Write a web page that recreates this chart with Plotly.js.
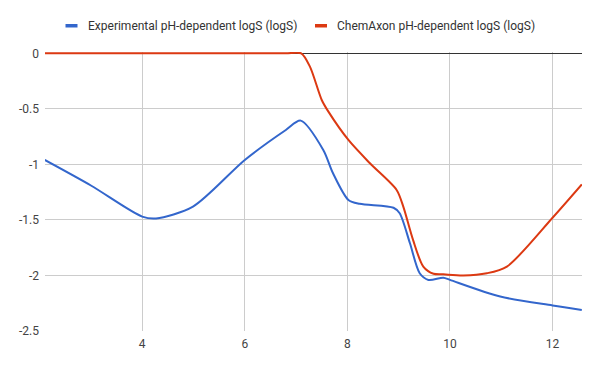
<!DOCTYPE html>
<html>
<head>
<meta charset="utf-8">
<script src="https://cdn.plot.ly/plotly-3.0.1.min.js"></script>
<style>html,body{margin:0;padding:0;background:#fff}#chart{width:600px;height:371px}</style>
</head>
<body>
<div id="chart"></div>
<script>
const seriesNames = ["Experimental pH-dependent logS (logS)", "ChemAxon pH-dependent logS (logS)"];
const expPH = [2.1, 3.0, 4.0, 4.27, 4.99, 6.0, 6.8, 7.09, 7.53, 7.72, 8.02, 8.24, 8.9, 9.02, 9.22, 9.41, 9.58, 9.87, 10.0, 10.98, 12.0, 12.57];
const expLogS = [-0.96, -1.19, -1.47, -1.487, -1.38, -0.96, -0.69, -0.606, -0.87, -1.08, -1.32, -1.355, -1.39, -1.44, -1.71, -1.98, -2.04, -2.02, -2.04, -2.19, -2.27, -2.31];
const caxPH = [2.1, 4.0, 6.0, 6.8, 7.1, 7.27, 7.5, 7.63, 8.02, 8.44, 8.96, 9.09, 9.28, 9.48, 9.68, 9.87, 10.26, 10.72, 11.11, 12.0, 12.57];
const caxLogS = [0, 0, 0, 0, 0, -0.12, -0.42, -0.525, -0.78, -0.99, -1.23, -1.38, -1.68, -1.92, -1.985, -1.99, -2.0, -1.98, -1.92, -1.48, -1.18];
const xTicks = [4, 6, 8, 10, 12];
const yTicks = [0, -0.5, -1, -1.5, -2, -2.5];
const colors = ["#3366cc", "#dc3912"];

const traces = [
  {x: caxPH, y: caxLogS, name: seriesNames[1], mode: "lines", line: {color: colors[1], width: 2, shape: "spline", smoothing: 0.8}},
  {x: expPH, y: expLogS, name: seriesNames[0], mode: "lines", line: {color: colors[0], width: 2, shape: "spline", smoothing: 0.8}}
];

const font = {family: "Roboto, Arial, sans-serif", size: 12, color: "#444"};
const legFont = {family: "Roboto, Arial, sans-serif", size: 12, color: "#333"};
const L = 45, T = 52, W = 537, H = 279;
const px = v => (v - L) / W;
const py = v => (T + H - v) / H;
const layout = {
  width: 600, height: 371,
  margin: {l: L, r: 600 - L - W, t: T, b: 371 - T - H, pad: 0},
  showlegend: false,
  paper_bgcolor: "#fff", plot_bgcolor: "#fff",
  font: font,
  xaxis: {range: [2.105, 12.574], tickvals: xTicks, ticktext: xTicks.map(String), showgrid: true, gridcolor: "#cccccc", gridwidth: 1, zeroline: false, showline: false, ticks: "", tickfont: font, ticklabelstandoff: 4},
  yaxis: {range: [-2.5, 0.012], tickvals: yTicks, ticktext: yTicks.map(String), showgrid: true, gridcolor: "#cccccc", gridwidth: 1, zeroline: true, zerolinecolor: "#333333", zerolinewidth: 1, showline: false, ticks: "", tickfont: font, ticklabelstandoff: 5},
  shapes: [
    {type: "rect", xref: "paper", yref: "paper", x0: px(65.5), x1: px(77.5), y0: py(27.5), y1: py(24), line: {width: 0}, fillcolor: colors[0]},
    {type: "rect", xref: "paper", yref: "paper", x0: px(315), x1: px(327), y0: py(27.5), y1: py(24), line: {width: 0}, fillcolor: colors[1]}
  ],
  annotations: [
    {xref: "paper", yref: "paper", x: px(86), y: py(26), xanchor: "left", yanchor: "middle", showarrow: false, text: seriesNames[0], font: legFont},
    {xref: "paper", yref: "paper", x: px(335), y: py(26), xanchor: "left", yanchor: "middle", showarrow: false, text: seriesNames[1], font: legFont}
  ]
};

Plotly.newPlot("chart", traces, layout, {displayModeBar: false, staticPlot: true});
</script>
</body>
</html>
